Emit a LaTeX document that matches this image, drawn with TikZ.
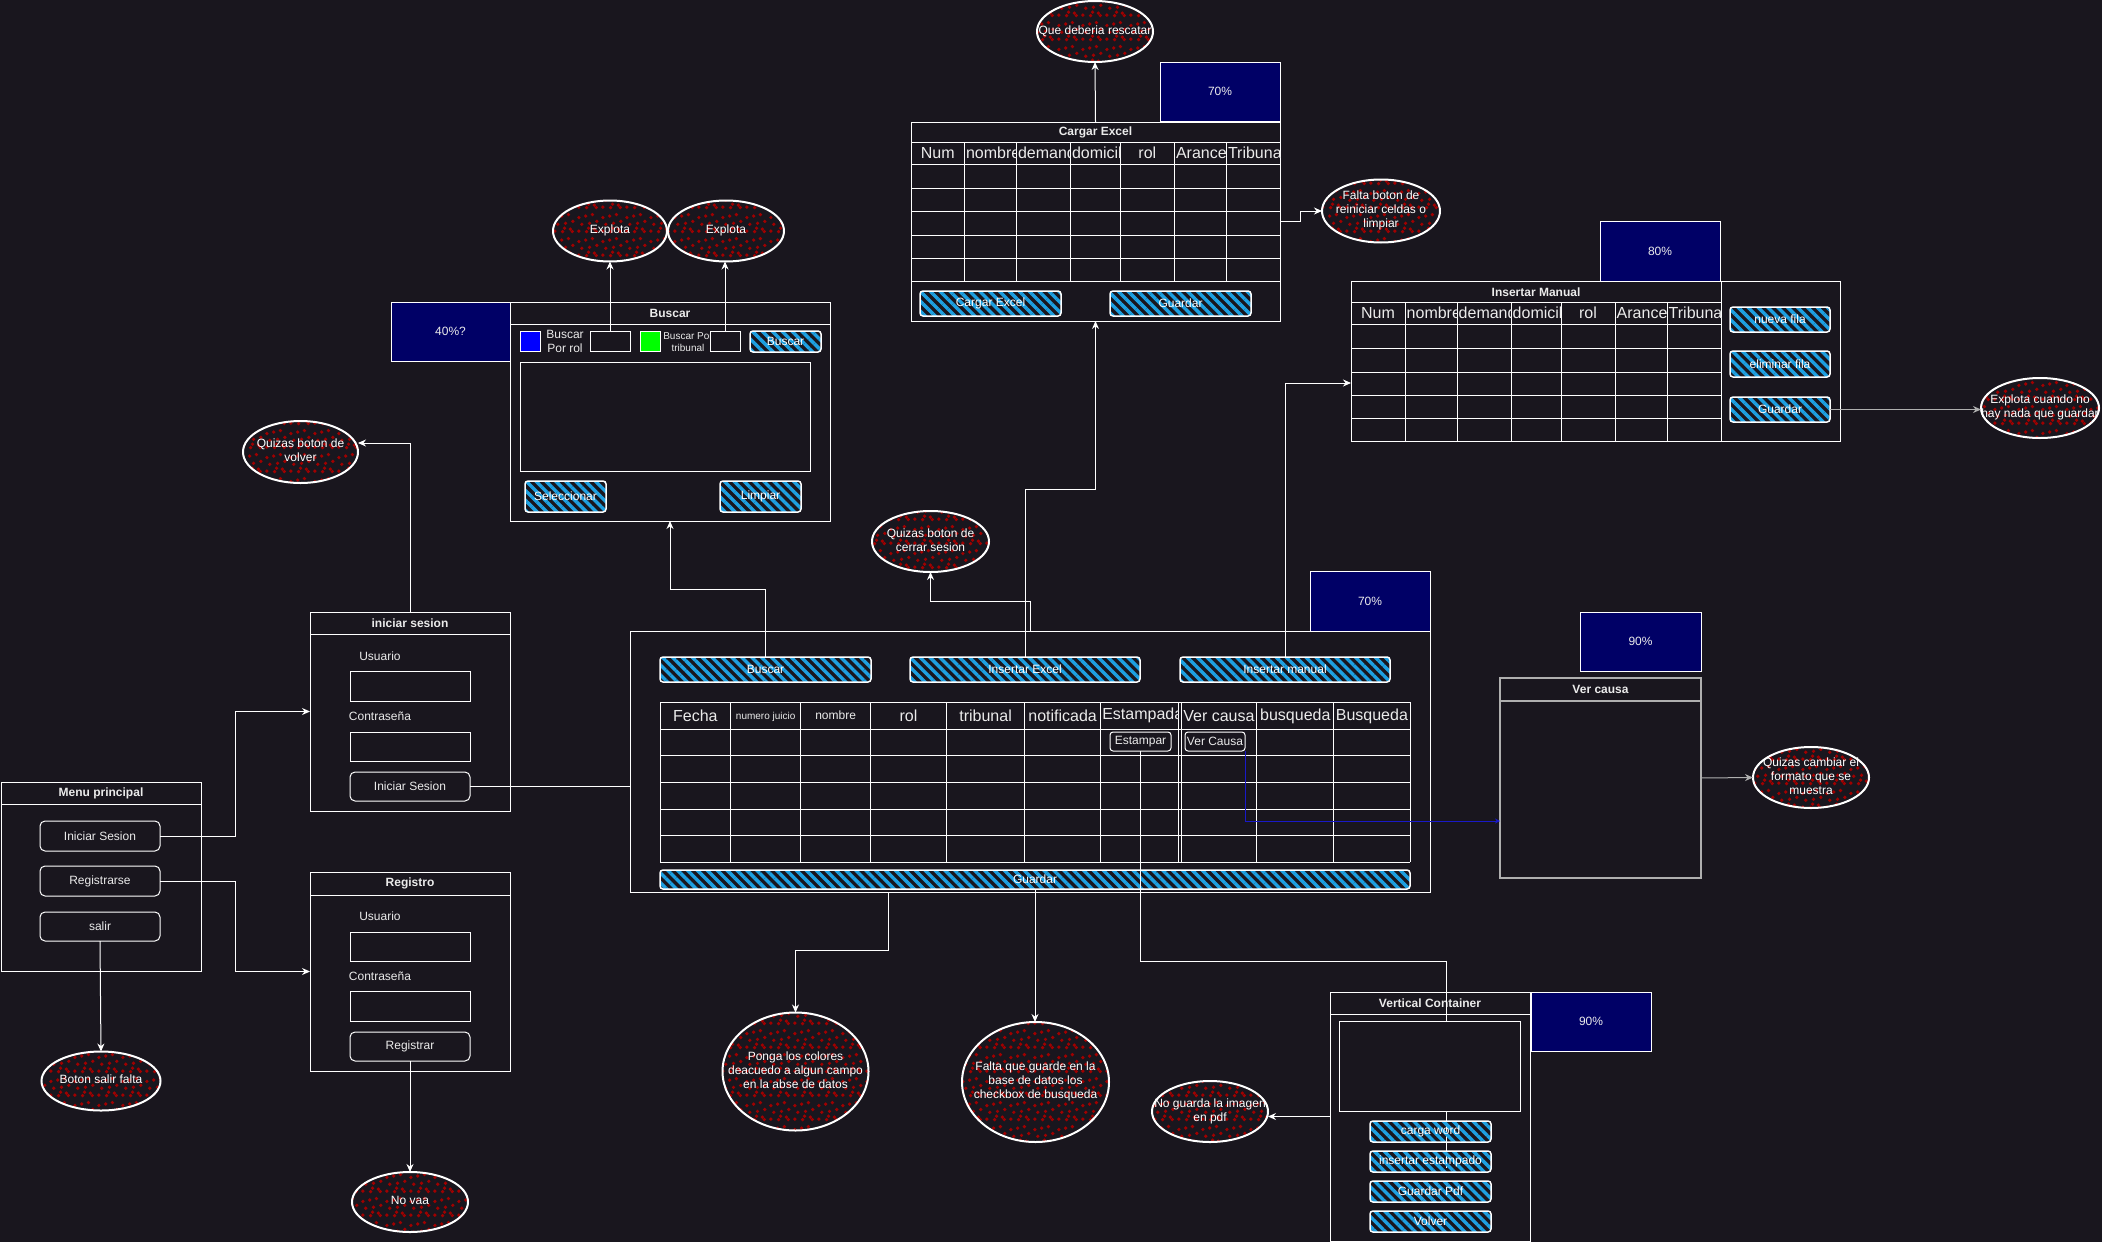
\documentclass[tikz,border=0pt]{standalone}
\usepackage{fontspec}
\setmainfont{Liberation Sans}
\usetikzlibrary{arrows.meta,patterns.meta,shapes.geometric}
\definecolor{bg}{RGB}{25,22,30}
\definecolor{navybox}{RGB}{0,0,102}
\definecolor{hatchblue}{RGB}{30,160,225}
\definecolor{dotred}{RGB}{160,0,0}
\definecolor{lgray}{RGB}{175,175,175}
\definecolor{vblue}{RGB}{25,25,200}
\definecolor{txt}{RGB}{235,235,235}
\newcommand\fa{\fontsize{12}{14}\selectfont}
\newcommand\fb{\fontsize{16}{18}\selectfont}
\newcommand\fc{\fontsize{10}{12}\selectfont}
\newcommand\nt[1]{\makebox[0pt]{\begin{tabular}{@{}c@{}}#1\end{tabular}}}
\newcommand\R[7]{\node[#1,anchor=north west,minimum width={(#4)-(#2)},minimum height={(#5)-(#3)}] (#6) at (#2,#3) {#7};}
\newcommand\cc[5]{\begin{scope}\clip (#1,#2) rectangle (#3,#4); \node[hdr,anchor=west] at (#1+1.5,{(#2+#4)/2}) {#5};\end{scope}}

\tikzdeclarepattern{
  name=reddots,
  type=uncolored,
  bottom left={(0pt,0pt)},
  top right={(24pt,24pt)},
  tile size={(24pt,24pt)},
  code={
    \tikzset{x=1pt,y=1pt}
    \foreach \a/\b in {3/3,11/2.5,19/5,6/10,14/11,21.5/13,3/17,10/18.5,17/20,21/2.5,13/6}
      {\fill (\a,\b) circle[radius=1.9];}
  }
}

\tikzset{
 ln/.style={draw=white, line width=1pt},
 box/.style={draw=white, line width=1pt, fill=bg, inner sep=0pt, outer sep=0pt},
 gbox/.style={box, draw=lgray, line width=1.5pt},
 navy/.style={draw=white, line width=1pt, fill=navybox, text=txt, font=\fa, inner sep=0pt, outer sep=0pt},
 tbox/.style={draw=white, line width=1pt, fill=bg, inner sep=0pt, outer sep=0pt},
 pbtn/.style={draw=white, line width=1pt, fill=bg, rounded corners=5pt, text=txt, font=\fa, inner sep=0pt, outer sep=0pt},
 hbtn/.style={draw=white, line width=1.5pt, rounded corners=3pt, pattern={Lines[angle=-45,distance=7pt,line width=3.4pt]}, pattern color=hatchblue, text=white, font=\fa, inner sep=0pt, outer sep=0pt},
 note/.style={ellipse, draw=white, line width=2pt, preaction={fill=bg}, pattern=reddots, pattern color=dotred, text=white, font=\fa, inner sep=0pt, outer sep=0pt},
 ttl/.style={text=txt, font=\fa\bfseries, inner sep=0pt},
 lbl/.style={text=txt, font=\fa, inner sep=0pt},
 hdr/.style={text=txt, font=\fb, inner sep=0pt},
 arr/.style={draw=white, line width=1pt, -{Stealth[length=8pt,width=7pt]}},
 garr/.style={arr, draw=lgray},
 con/.style={draw=white, line width=1pt},
}

\begin{document}
\begin{tikzpicture}[x=1pt,y=-1pt]
\fill[bg] (0,0) rectangle (2102,1242);
\useasboundingbox (0,0) rectangle (2102,1242);

% ---------------- Menu principal
\R{box}{1}{782}{201}{971}{menu}{}
\draw[ln] (1,804) -- (201,804);
\node[ttl] (menut) at (101,793) {Menu principal};
\R{pbtn}{40}{821}{160}{851}{mini}{Iniciar Sesion}
\R{pbtn}{40}{866}{160}{896}{mreg}{Registrarse}
\R{pbtn}{40}{912}{160}{941}{msal}{salir}
\node[note,minimum width=119,minimum height=59] (nsalir) at (101,1081) {\nt{Boton salir falta}};

% ---------------- iniciar sesion
\R{box}{310}{612}{510}{811}{ises}{}
\draw[ln] (310,634) -- (510,634);
\node[ttl] (isest) at (410,623) {iniciar sesion};
\node[lbl] (isesu) at (380,656) {Usuario};
\R{tbox}{350}{671}{470}{701}{isestb1}{}
\node[lbl] (isesc) at (380,716) {Contraseña};
\R{tbox}{350}{732}{470}{761}{isestb2}{}
\R{pbtn}{350}{772}{470}{801}{isesbtn}{Iniciar Sesion}
\node[note,minimum width=115,minimum height=62] (nvolver) at (300.5,452) {\nt{Quizas boton de\\volver}};

% ---------------- Registro
\R{box}{310}{872}{510}{1071}{reg}{}
\draw[ln] (310,895) -- (510,895);
\node[ttl] (regt) at (410,883.5) {Registro};
\node[lbl] (regu) at (380,916) {Usuario};
\R{tbox}{350}{932}{470}{961}{regtb1}{}
\node[lbl] (regc) at (380,976) {Contraseña};
\R{tbox}{350}{991}{470}{1021}{regtb2}{}
\R{pbtn}{350}{1032}{470}{1061}{regbtn}{Registrar}
\node[note,minimum width=116,minimum height=60] (nvaa) at (410,1202) {\nt{No vaa}};

% ---------------- Buscar
\R{navy}{391}{302}{510}{361}{p40}{40\%?}
\R{box}{510}{302}{830}{521}{busc}{}
\draw[ln] (510,324) -- (830,324);
\node[ttl] (busct) at (670,313) {Buscar};
\R{tbox, fill=blue}{520}{331}{540}{351}{bsq}{}
\node[lbl, align=center] (bporrol) at (565,341) {Buscar\\Por rol};
\R{tbox}{590}{331}{630}{351}{btb1}{}
\R{tbox, fill=green}{640}{331}{660}{351}{gsq}{}
\node[lbl, font=\fc, align=center] (bportrib) at (688,342) {Buscar Por\\tribunal};
\R{tbox}{710}{331}{740}{351}{btb2}{}
\R{hbtn}{750}{331}{821}{352}{bbtn}{Buscar}
\R{tbox}{520}{362}{810}{471}{barea}{}
\R{hbtn}{525}{481}{606}{512}{bsel}{Seleccionar}
\R{hbtn}{720}{481}{801}{512}{blim}{Limpiar}
\node[note,minimum width=114,minimum height=61] (nexp1) at (610,231) {\nt{Explota}};
\node[note,minimum width=116,minimum height=61] (nexp2) at (726,231) {\nt{Explota}};

% ---------------- Cargar Excel
\node[note,minimum width=116,minimum height=61] (nque) at (1095,31.5) {\nt{Que deberia rescatar}};
\R{navy}{1160}{62}{1280}{121}{p70a}{70\%}
\R{box}{911}{122}{1280}{321}{cexc}{}
\node[ttl] (cexct) at (1095.5,132) {Cargar Excel};
\foreach \x in {911,964.3,1016.3,1070.3,1120.3,1174.3,1226.3,1280} \draw[ln] (\x,142) -- (\x,281.7);
\foreach \y in {142,164.3,188.3,211.7,235,258.3,281.7} \draw[ln] (911,\y) -- (1280,\y);
\node[hdr] at (937.7,153) {Num};
\cc{964.3}{142}{1016.3}{164.3}{nombre}
\cc{1016.3}{142}{1070.3}{164.3}{demandado}
\cc{1070.3}{142}{1120.3}{164.3}{domicilio}
\node[hdr] at (1147.3,153) {rol};
\cc{1174.3}{142}{1226.3}{164.3}{Arancel}
\cc{1226.3}{142}{1280}{164.3}{Tribunal}
\R{hbtn}{920}{291}{1061}{316}{cexcb1}{Cargar Excel}
\R{hbtn}{1110}{291}{1251}{316}{cexcb2}{Guardar}
\node[note,minimum width=118,minimum height=63] (nfalta1) at (1381,211) {\nt{Falta boton de\\reiniciar celdas o\\limpiar}};

% ---------------- Insertar Manual
\R{navy}{1600}{221}{1720}{281}{p80}{80\%}
\R{box}{1351}{281}{1840}{441}{iman}{}
\node[ttl] (imant) at (1536,292) {Insertar Manual};
\draw[ln] (1351,302) -- (1721,302);
\foreach \x in {1351,1405,1457,1511,1561,1615,1667} \draw[ln] (\x,302) -- (\x,441);
\draw[ln] (1721,281) -- (1721,441);
\foreach \y in {324,348,372,395,418} \draw[ln] (1351,\y) -- (1721,\y);
\node[hdr] at (1378,313) {Num};
\cc{1405}{302}{1457}{324}{nombre}
\cc{1457}{302}{1511}{324}{demandado}
\cc{1511}{302}{1561}{324}{domicilio}
\node[hdr] at (1588,313) {rol};
\cc{1615}{302}{1667}{324}{Arancel}
\cc{1667}{302}{1721}{324}{Tribunal}
\R{hbtn}{1730}{307}{1830}{332}{imb1}{nueva fila}
\R{hbtn}{1730}{351}{1830}{377}{imb2}{eliminar fila}
\R{hbtn}{1730}{397}{1830}{422}{imb3}{Guardar}
\node[note,minimum width=118,minimum height=60] (nexp3) at (2040,408) {\nt{Explota cuando no\\hay nada que guardar}};

% ---------------- Main container
\R{navy}{1310}{571}{1430}{631}{p70b}{70\%}
\R{box}{630}{631}{1430}{892}{main}{}
\R{hbtn}{660}{657}{871}{682}{mbus}{Buscar}
\R{hbtn}{910}{657}{1140}{682}{mexc}{Insertar Excel}
\R{hbtn}{1180}{657}{1390}{682}{mman}{Insertar manual}
\foreach \x in {660,730.7,800.6,870.5,946.5,1024.6,1100.6,1178,1181,1256.7,1333.8,1410} \draw[ln] (\x,702) -- (\x,862);
\foreach \y in {702,729,755,782,809,835,862} \draw[ln] (660,\y) -- (1410,\y);
\node[hdr] at (695.4,716) {Fecha};
\node[lbl, font=\fontsize{10}{12}\selectfont] at (765.7,717) {numero juicio};
\node[lbl] at (835.6,715) {nombre};
\node[hdr] at (908.5,716) {rol};
\node[hdr] at (985.6,716) {tribunal};
\node[hdr] at (1062.6,716) {notificada};
\cc{1100.6}{702}{1178}{729}{Estampada}
\node[hdr] at (1218.9,716) {Ver causa};
\node[hdr] at (1295.3,716) {busqueda};
\node[hdr] at (1371.9,716) {Busqueda};
\R{pbtn, rounded corners=3pt}{1110}{732}{1171}{751}{mest}{Estampar}
\R{pbtn, rounded corners=3pt}{1185}{732}{1245}{751}{mver}{Ver Causa}
\R{hbtn}{660}{870}{1410}{889}{mgua}{Guardar}
\node[note,minimum width=117,minimum height=61] (ncerrar) at (930.5,541.5) {\nt{Quizas boton de\\cerrar sesion}};
\node[note,minimum width=146,minimum height=118] (nponga) at (795.5,1071.5) {\nt{Ponga los colores\\deacuedo a algun campo\\en la abse de datos}};
\node[note,minimum width=147,minimum height=120] (nfalta2) at (1035.5,1082) {\nt{Falta que guarde en la\\base de datos los\\checkbox de busqueda}};

% ---------------- Ver causa
\R{navy}{1580}{612}{1701}{671}{p90a}{90\%}
\R{gbox}{1500}{678}{1701}{878}{vcb}{}
\draw[lgray, line width=1.5pt] (1500,701) -- (1701,701);
\node[ttl] (vcbt) at (1600.5,689.5) {Ver causa};
\node[note,minimum width=116,minimum height=61] (ncambiar) at (1811,777.5) {\nt{Quizas cambiar el\\formato que se\\muestra}};

% ---------------- Vertical Container
\R{box}{1330}{992}{1530}{1241}{vc}{}
\draw[ln] (1330,1014) -- (1530,1014);
\node[ttl] (vct) at (1430,1003) {Vertical Container};
\R{navy}{1531}{992}{1651}{1051}{p90b}{90\%}
\coordinate (vcend) at (1446,1168);
\draw[con] (mest.south) -- ++(0,210) -| (vcend);
\R{tbox}{1339}{1021}{1520}{1111}{vcimg}{}
\R{hbtn}{1370}{1121}{1491}{1142}{vcb1}{carga word}
\R{hbtn}{1370}{1151}{1491}{1172}{vcb2}{insertar estampado}
\R{hbtn}{1370}{1181}{1491}{1202}{vcb3}{Guardar Pdf}
\R{hbtn}{1370}{1211}{1491}{1232}{vcb4}{Volver}
\node[note,minimum width=116,minimum height=61] (nnoguarda) at (1210,1111.5) {\nt{No guarda la imagen\\en pdf}};

% ---------------- Connectors
\draw[arr] (msal.south) -- (nsalir.north);
\draw[arr] (mini.east) -- ++(75,0) |- (ises.west);
\draw[arr] (mreg.east) -- ++(75,0) |- (reg.west);
\draw[arr] (regbtn.south) -- (nvaa.north);
\draw[arr] (ises.north) |- ([yshift=9pt]nvolver.east);
\draw[con] (isesbtn.east) -- (isesbtn.east -| main.west);
\draw[arr] (btb1.north) -- (nexp1.south);
\draw[arr] (btb2.north) -- (btb2.north |- nexp2.south);
\draw[arr] (cexc.north) -- (nque.south);
\draw[arr] (cexc.east) -- ++(20,0) |- (nfalta1.west);
\draw[garr] (imb3.east) -- (imb3.east -| nexp3.west);
\draw[arr] (mbus.north) -- ++(0,-68) -| (busc.south);
\draw[arr] (mexc.north) -- ++(0,-168) -| (cexc.south);
\draw[arr] (main.north) -- ++(0,-30) -| (ncerrar.south);
\draw[arr] (mman.north) |- ([yshift=-22pt]iman.west);
\draw[arr] ([xshift=-142pt]main.south) -- ++(0,58) -| (nponga.north);
\draw[arr] (mgua.south) -- (mgua.south |- nfalta2.north);
\draw[draw=vblue, line width=1pt, -{Stealth[length=5pt,width=5pt]}] (mver.south east) |- ([yshift=-43pt]vcb.west);
\draw[garr] (vcb.east) -- (ncambiar.west);
\draw[arr] (vc.west) -- (vc.west -| nnoguarda.east);
\end{tikzpicture}
\end{document}
